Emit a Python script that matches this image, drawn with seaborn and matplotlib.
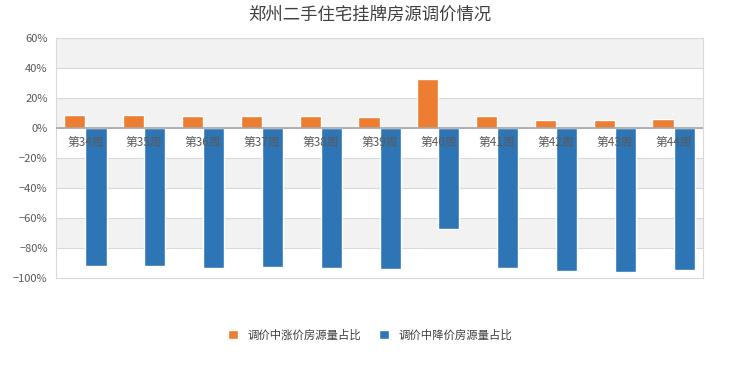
import pandas as pd
import numpy as np
import seaborn as sns
import matplotlib.pyplot as plt
from matplotlib.ticker import PercentFormatter
from matplotlib.transforms import offset_copy

weeks = ['第34周', '第35周', '第36周', '第37周', '第38周', '第39周',
         '第40周', '第41周', '第42周', '第43周', '第44周']
rise_share = [8.5, 8.5, 7.8, 7.8, 7.8, 7.1, 32.5, 8.0, 5.1, 5.1, 6.0]
drop_share = [-92.0, -92.0, -93.3, -92.6, -93.3, -93.7, -67.6, -93.3, -95.0, -95.7, -94.4]
series_names = ['调价中涨价房源量占比', '调价中降价房源量占比']
colors = ['#ED7D31', '#2E75B6']

df = pd.DataFrame({
    'week': weeks * 2,
    'value': rise_share + drop_share,
    'series': [series_names[0]] * len(weeks) + [series_names[1]] * len(weeks),
})

sns.set_theme(style='white')
plt.rcParams['font.family'] = ['Noto Sans CJK SC', 'DejaVu Sans']

fig = plt.figure(figsize=(7.4, 3.7), dpi=100)
ax = fig.add_axes([0.0757, 0.2486, 0.8743, 0.6484])

# 背景条纹（灰白相间）
for lo, hi in [(40, 60), (0, 20), (-40, -20), (-80, -60)]:
    ax.axhspan(lo, hi, color='#F2F2F2', zorder=0, lw=0)

sns.barplot(data=df, x='week', y='value', hue='series', palette=colors,
            width=0.72, ax=ax, zorder=3, saturation=1, legend=True)

ax.set_ylim(-100, 60)
ax.set_xlim(-0.5, len(weeks) - 0.5)
ax.set_yticks(np.arange(-100, 61, 20))
ax.yaxis.set_major_formatter(PercentFormatter(decimals=0))
ax.tick_params(axis='y', labelsize=8, labelcolor='#595959', length=0, pad=6)
ax.set_xticks([])
ax.set_xlabel('')
ax.set_ylabel('')
ax.grid(axis='y', color='#D9D9D9', lw=0.8, zorder=1)
ax.set_axisbelow(True)
ax.axhline(0, color='#A6A6A6', lw=1.2, zorder=4)
for s in ax.spines.values():
    s.set_color('#D9D9D9')
    s.set_linewidth(0.8)

trans = offset_copy(ax.transData, fig=fig, x=0, y=-6, units='points')
for i, w in enumerate(weeks):
    ax.text(i, 0, w, ha='center', va='top', fontsize=8.5, color='#595959',
            transform=trans, zorder=5)

fig.suptitle('郑州二手住宅挂牌房源调价情况', x=0.5, y=0.985, fontsize=12.5,
             color='#404040')

ax.legend_.remove()
handles, labels = ax.get_legend_handles_labels()
fig.legend(handles[:2], labels[:2], loc='center', bbox_to_anchor=(0.5, 0.095),
           ncol=2, frameon=False, fontsize=8.2, handlelength=0.9,
           handleheight=0.9, handletextpad=0.8, columnspacing=1.6,
           labelcolor='#404040')

fig.savefig('out.png', dpi=100)
